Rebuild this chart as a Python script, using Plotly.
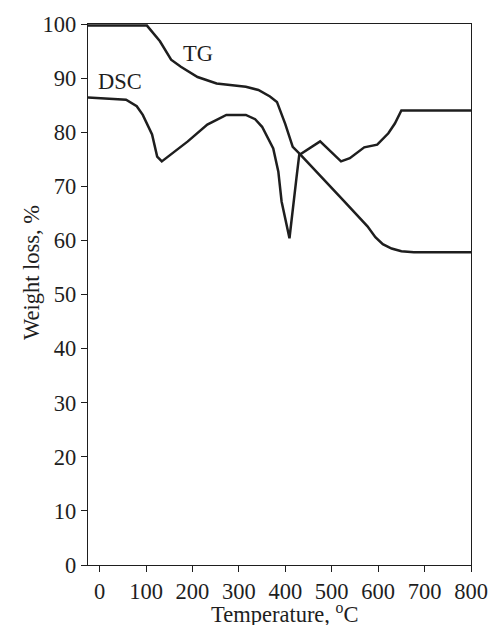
import plotly.graph_objects as go

tg_t = [-25, 102, 130, 154, 175, 211, 252, 315, 342, 367, 382, 400, 416, 430, 524, 556, 577, 594, 610, 629, 650, 677, 800]
tg_v = [99.7, 99.7, 96.8, 93.4, 92.1, 90.2, 89.0, 88.4, 87.8, 86.6, 85.6, 81.5, 77.3, 76.1, 67.5, 64.5, 62.6, 60.6, 59.3, 58.5, 58.0, 57.8, 57.8]

dsc_t = [-25, 57, 80, 93, 113, 124, 134, 190, 232, 273, 315, 335, 350, 374, 385, 392, 409, 419, 424, 430, 475, 520, 539, 570, 598, 622, 636, 650, 800]
dsc_v = [86.4, 86.0, 84.8, 83.2, 79.6, 75.5, 74.6, 78.3, 81.4, 83.2, 83.2, 82.4, 81.0, 77.0, 72.7, 67.2, 60.4, 67.2, 71.5, 75.8, 78.3, 74.6, 75.2, 77.2, 77.7, 79.8, 81.6, 84.0, 84.0]

x_ticks = [0, 100, 200, 300, 400, 500, 600, 700, 800]
y_ticks = [0, 10, 20, 30, 40, 50, 60, 70, 80, 90, 100]

ink = "#1e1e1e"
font = "Liberation Serif, Times New Roman, serif"
fs = 22.5

fig = go.Figure()
fig.add_trace(go.Scatter(x=tg_t, y=tg_v, mode="lines", line=dict(color=ink, width=2.5), showlegend=False))
fig.add_trace(go.Scatter(x=dsc_t, y=dsc_v, mode="lines", line=dict(color=ink, width=2.5), showlegend=False))

fig.add_annotation(x=211, y=94.5, text="TG", showarrow=False, font=dict(family=font, size=fs, color=ink))
fig.add_annotation(x=43, y=89.4, text="DSC", showarrow=False, font=dict(family=font, size=fs, color=ink))

# axis titles placed as annotations
fig.add_annotation(xref="paper", yref="paper", x=0.515, y=-0.088, text="Temperature, <sup>o</sup>C",
                   showarrow=False, xanchor="center", yanchor="middle",
                   font=dict(family=font, size=fs, color=ink))
fig.add_annotation(xref="paper", yref="paper", x=-0.147, y=0.541, text="Weight loss, %",
                   showarrow=False, textangle=-90, xanchor="center", yanchor="middle",
                   font=dict(family=font, size=fs, color=ink))

fig.update_layout(
    width=500, height=625,
    margin=dict(l=88, r=18, t=22, b=60),
    paper_bgcolor="white", plot_bgcolor="white",
    font=dict(family=font, size=fs, color=ink),
    xaxis=dict(range=[-25, 800], tickvals=x_ticks, ticks="outside", ticklen=6, tickwidth=1.2,
               tickcolor=ink, showline=True, linecolor=ink, linewidth=1.3, mirror=True,
               showgrid=False, zeroline=False),
    yaxis=dict(range=[0, 100], tickvals=y_ticks, ticks="outside", ticklen=6, tickwidth=1.2,
               tickcolor=ink, showline=True, linecolor=ink, linewidth=1.3, mirror=True,
               showgrid=False, zeroline=False),
)

fig.write_html("out.html")
